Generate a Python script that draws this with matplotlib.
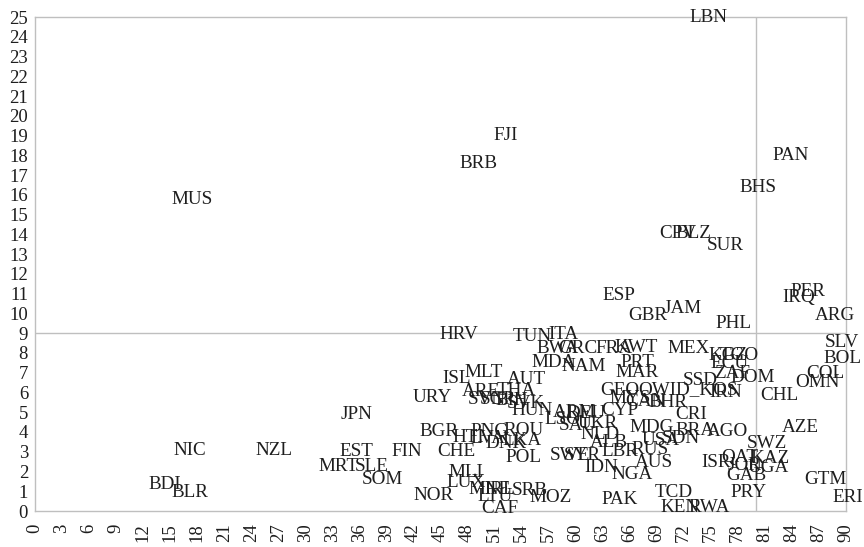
import matplotlib
matplotlib.use("Agg")
import matplotlib.pyplot as plt

# country codes with x / y values
codes = ["LBN", "PAN", "FJI", "BRB", "MUS", "BHS", "CPV", "BLZ", "SUR", "ESP",
         "GBR", "JAM", "PHL", "IRQ", "PER", "ARG",
         "HRV", "TUN", "ITA", "BWA", "GRC", "FRA", "KWT", "MDA", "NAM", "PRT",
         "MAR", "MEX", "KGZ", "TGO", "ECU", "ZAF", "DOM", "SSD", "GEO", "OWID_KOS",
         "IRN", "MYS", "CAN", "BHR", "CRI", "MDG", "USA", "SDN", "BRA", "AGO",
         "CHL", "OMN", "COL", "SLV", "BOL", "AZE", "SWZ", "KAZ", "QAT", "ISR",
         "JOR", "UGA", "GAB", "PRY", "GTM", "ERI", "TCD", "KEN", "RWA", "PAK",
         "NGA", "AUS", "RUS", "LBR", "IDN", "SWE", "SYR", "POL", "CHE", "MLI",
         "LUX", "NOR", "MNE", "IRL", "LTU", "CAF", "SRB", "MOZ", "BGR", "HTI",
         "LVA", "PNG", "ROU", "DNK", "LKA", "SAU", "UKR", "NLD", "ALB", "LSO",
         "ARM", "DEU", "CYP", "HUN", "SVK", "BIH", "SGP", "SVN", "ARE", "THA",
         "AUT", "ISL", "MLT", "URY", "JPN", "EST", "MRT", "SLE", "SOM", "FIN",
         "NIC", "NZL", "BDI", "BLR"]

x_vals = [74.8, 83.9, 52.2, 49.2, 17.4, 80.2, 71.4, 73.1, 76.6, 64.8,
          68.0, 71.9, 77.5, 84.8, 85.8, 88.8,
          47.1, 55.2, 58.6, 58.0, 60.3, 64.3, 66.7, 57.6, 60.9, 66.9,
          66.8, 72.5, 76.9, 78.2, 77.1, 77.4, 79.7, 73.8, 64.9, 72.5,
          76.7, 66.0, 67.7, 70.3, 72.8, 68.4, 69.5, 71.7, 73.3, 76.9,
          82.6, 86.9, 87.7, 89.6, 89.6, 84.9, 81.2, 81.6, 78.2, 75.6,
          78.8, 81.4, 78.9, 79.2, 87.7, 90.2, 70.9, 71.6, 74.8, 64.9,
          66.3, 68.7, 68.3, 64.9, 62.9, 59.4, 60.8, 54.2, 46.8, 47.8,
          47.8, 44.2, 50.5, 51.6, 51.1, 51.6, 54.9, 57.2, 44.8, 48.1,
          50.3, 50.5, 54.2, 52.3, 54.1, 60.2, 62.5, 62.7, 63.7, 58.5,
          59.9, 61.2, 64.9, 55.2, 54.5, 52.9, 51.3, 50.2, 49.5, 53.4,
          54.5, 46.8, 49.8, 44.1, 35.7, 35.7, 33.7, 37.4, 38.6, 41.3,
          17.2, 26.5, 14.4, 17.2]

y_vals = [25.0, 17.97, 19.03, 17.61, 15.79, 16.35, 14.07, 14.07, 13.46, 10.93,
          9.92, 10.27, 9.51, 10.83, 11.13, 9.92,
          8.95, 8.81, 8.91, 8.25, 8.25, 8.25, 8.30, 7.54, 7.29, 7.54,
          7.03, 8.25, 7.89, 7.89, 7.49, 6.98, 6.78, 6.63, 6.12, 6.12,
          6.02, 5.67, 5.52, 5.47, 4.86, 4.25, 3.59, 3.69, 4.10, 4.00,
          5.87, 6.48, 6.98, 8.55, 7.74, 4.25, 3.44, 2.68, 2.73, 2.43,
          2.28, 2.18, 1.82, 0.96, 1.57, 0.66, 0.96, 0.20, 0.20, 0.56,
          1.87, 2.48, 3.09, 2.99, 2.18, 2.83, 2.83, 2.73, 2.99, 1.97,
          1.42, 0.81, 1.11, 1.11, 0.71, 0.15, 1.06, 0.66, 4.00, 3.74,
          3.69, 4.00, 4.10, 3.44, 3.59, 4.35, 4.45, 3.85, 3.49, 4.61,
          5.01, 4.96, 5.11, 5.11, 5.42, 5.57, 5.62, 5.62, 6.07, 6.12,
          6.68, 6.73, 7.03, 5.72, 4.86, 2.99, 2.23, 2.23, 1.57, 2.99,
          3.04, 3.04, 1.32, 0.96]

x_ticks = list(range(0, 91, 3))
y_ticks = list(range(0, 26))
x_line = 80
y_line = 9

plt.rcParams['font.family'] = ['Liberation Serif', 'DejaVu Serif']

fig = plt.figure(figsize=(8.64, 5.47), dpi=100)
ax = fig.add_axes([0.0405, 0.0658, 0.9385, 0.903])

grey = "#bfbfbf"
txt = "#1e1e1e"

for c, x, y in zip(codes, x_vals, y_vals):
    ax.text(x, y, c, ha="center", va="center", fontsize=13.8, color=txt, clip_on=False)

ax.axhline(y_line, color=grey, lw=1)
ax.axvline(x_line, color=grey, lw=1)

ax.set_xlim(0, 90)
ax.set_ylim(0, 25)
ax.set_xticks(x_ticks)
ax.set_yticks(y_ticks)
ax.set_xticklabels([str(v) for v in x_ticks], rotation=90, fontsize=13.5, color=txt)
ax.set_yticklabels([str(v) for v in y_ticks], fontsize=13.5, color=txt)
ax.tick_params(axis="x", length=0, pad=9)
ax.tick_params(axis="y", length=0, pad=5)
for s in ax.spines.values():
    s.set_color(grey)
    s.set_linewidth(1)

fig.savefig("out.png", dpi=100)
